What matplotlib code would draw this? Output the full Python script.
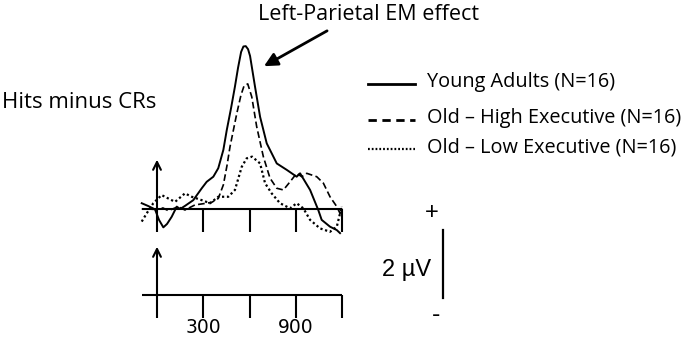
import matplotlib
matplotlib.use("Agg")
import matplotlib.pyplot as plt
from matplotlib.lines import Line2D
import numpy as np

# ERP difference waves (hits minus correct rejections), time in ms, amplitude in uV
young_t = [-99, -58, -13, 13, 41, 65, 95, 128, 150, 181, 235, 290, 322, 365, 397, 430, 452, 480,
           505, 525, 545, 560, 575, 590, 603, 635, 668, 711, 776, 841, 905, 927, 992, 1045, 1067,
           1121, 1165, 1186]
young_v = [0.17, 0.09, -0.01, -0.32, -0.54, -0.44, -0.23, 0.07, 0.0, 0.09, 0.26, 0.61, 0.80, 0.95,
           1.20, 1.74, 2.32, 2.97, 3.60, 4.15, 4.62, 4.78, 4.79, 4.70, 4.50, 3.60, 2.71, 1.93, 1.34,
           1.15, 0.95, 1.05, 0.56, -0.03, -0.32, -0.52, -0.62, -0.71]

high_t = [-99, -13, 39, 73, 138, 181, 246, 322, 356, 397, 430, 454, 473, 517, 544, 564, 588, 614,
          646, 689, 732, 776, 819, 862, 905, 938, 970, 1035, 1078, 1121, 1165, 1186, 1197]
high_v = [0.0, -0.01, 0.03, -0.05, 0.07, -0.03, 0.12, 0.17, 0.20, 0.31, 0.71, 1.29, 1.83, 2.81,
          3.35, 3.62, 3.68, 3.30, 2.42, 1.54, 0.91, 0.61, 0.56, 0.80, 1.05, 0.95, 1.05, 0.95, 0.76,
          0.36, 0.07, -0.13, 0.03]

low_t = [-99, -67, -24, 30, 73, 117, 181, 225, 290, 344, 397, 462, 505, 549, 581, 616, 668, 700,
         743, 797, 862, 905, 948, 992, 1056, 1121, 1165, 1186, 1197]
low_v = [-0.37, -0.13, 0.17, 0.41, 0.31, 0.21, 0.46, 0.36, 0.26, 0.17, 0.36, 0.36, 0.56, 1.24,
         1.49, 1.54, 1.34, 0.76, 0.46, 0.17, 0.02, 0.17, 0.02, -0.32, -0.57, -0.67, -0.52, -0.13, 0.07]

labels = ["Young Adults (N=16)", "Old \u2013 High Executive (N=16)", "Old \u2013 Low Executive (N=16)"]
tick_times = [0, 300, 600, 900, 1200]
tick_labels = {300: "300", 900: "900"}
scale_uv = 2

W, H = 686, 342
px_per_ms = 46.3 / 300
px_per_uv = 34.0
x0_px = 157.0

fig = plt.figure(figsize=(W / 100, H / 100), dpi=100)

def add_axes_px(tmin, tmax, vmin, vmax, base_px):
    left = x0_px + tmin * px_per_ms
    right = x0_px + tmax * px_per_ms
    top = base_px - vmax * px_per_uv
    bottom = base_px - vmin * px_per_uv
    ax = fig.add_axes([left / W, 1 - bottom / H, (right - left) / W, (bottom - top) / H])
    ax.set_xlim(tmin, tmax)
    ax.set_ylim(vmin, vmax)
    ax.axis("off")
    return ax

lw_axis = 1.5
k = "black"

# upper panel
ax = add_axes_px(-110, 1210, -1.0, 5.0, 209)
ax.plot(young_t, young_v, color=k, lw=1.4, ls="-", clip_on=False)
ax.plot(high_t, high_v, color=k, lw=1.2, ls=(0, (4, 2)), clip_on=False)
ax.plot(low_t, low_v, color=k, lw=1.6, ls=(0, (1, 1.2)), clip_on=False)
ax.plot([-100, 1200], [0, 0], color=k, lw=lw_axis, solid_capstyle="butt")
for t in tick_times:
    ax.plot([t, t], [0, -0.67], color=k, lw=lw_axis, solid_capstyle="butt")
ax.annotate("", xy=(0, 1.45), xytext=(0, -0.02),
            arrowprops=dict(arrowstyle="->", color=k, lw=lw_axis, mutation_scale=14,
                            shrinkA=0, shrinkB=0))

# pointer arrow to the peak
ax.annotate("", xy=(693, 4.2), xytext=(1102, 5.24),
            arrowprops=dict(arrowstyle="-|>", color=k, lw=2.0, mutation_scale=20,
                            shrinkA=0, shrinkB=0), annotation_clip=False)

# scale bar
ax.plot([1855, 1855], [-0.62, -0.62 - scale_uv], color=k, lw=1.6, clip_on=False)

# lower panel
ax2 = add_axes_px(-110, 1210, -1.3, 1.6, 295)
ax2.plot([-100, 1200], [0, 0], color=k, lw=lw_axis, solid_capstyle="butt")
for t in tick_times:
    ax2.plot([t, t], [0, -0.68], color=k, lw=lw_axis, solid_capstyle="butt")
ax2.annotate("", xy=(0, 1.42), xytext=(0, -0.02),
             arrowprops=dict(arrowstyle="->", color=k, lw=lw_axis, mutation_scale=14,
                             shrinkA=0, shrinkB=0))
for t, s in tick_labels.items():
    ax2.text(t, -0.97, s, ha="center", va="center", fontsize=13.5, family="DejaVu Sans")

def ftext(x, y, s, **kw):
    fig.text(x / W, 1 - y / H, s, **kw)

cal = ["Open Sans", "DejaVu Sans"]
ftext(369, 14, "Left-Parietal EM effect", ha="center", va="center", fontsize=15.5, family=cal)
ftext(2, 103, "Hits minus CRs", ha="left", va="center", fontsize=16, family=cal)

# legend
rows_y = [82, 118, 147]
styles = [dict(ls="-", lw=2.0), dict(ls=(0, (3, 2)), lw=2.0), dict(ls=(0, (0.8, 0.9)), lw=1.6)]
for y, lab, st in zip(rows_y, labels, styles):
    fig.add_artist(Line2D([368 / W, 415 / W], [1 - (y + 2) / H, 1 - (y + 2) / H], color=k, **st))
    ftext(427, y, lab, ha="left", va="center", fontsize=14.3, family=cal)

ar = ["Liberation Sans", "DejaVu Sans"]
ftext(432, 213, "+", ha="center", va="center", fontsize=17, family=ar)
ftext(407, 270, "2 \u00b5V", ha="center", va="center", fontsize=17, family=ar)
ftext(436, 315, "-", ha="center", va="center", fontsize=18, family=ar)

fig.savefig("out.png", dpi=100)
